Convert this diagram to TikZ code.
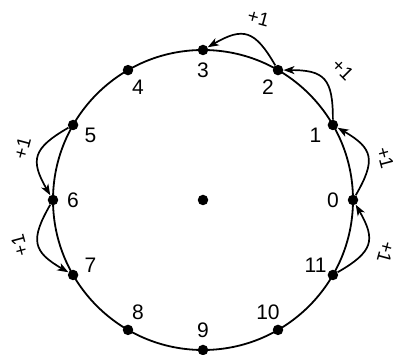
\documentclass[tikz,border=0pt]{standalone}
\usepackage{fontspec}
\setmainfont{Liberation Sans}
\usetikzlibrary{arrows.meta}
\begin{document}
\begin{tikzpicture}[x=1pt,y=1pt,
  dot/.style={circle,fill=black,inner sep=0pt,minimum size=10.5pt},
  num/.style={font=\fontsize{21}{24}\selectfont,inner sep=0pt},
  plus/.style={font=\fontsize{19}{22}\selectfont,inner sep=0pt},
  arr/.style={line width=1.7pt,-{Stealth[length=11pt,width=8pt,inset=3pt]},looseness=1.5},
  ring/.style={line width=1.8pt}]
\useasboundingbox (-203,-155) rectangle (193,200);
\draw[ring] (0,0) circle[radius=150pt];
\node[dot] (c) at (0,0) {};
\foreach \k in {0,...,11} {
  \node[dot] (d\k) at ({30*\k}:150) {};
  \node[num] (l\k) at ({30*\k}:130) {\k};
}
\draw[arr] (d11) to[out=30,in=-60] (d0);
\draw[arr] (d0) to[out=60,in=-30] (d1);
\draw[arr] (d1) to[out=90,in=0] (d2);
\draw[arr] (d2) to[out=120,in=30] (d3);
\draw[arr] (d5) to[out=210,in=120] (d6);
\draw[arr] (d6) to[out=240,in=150] (d7);
\node[plus,rotate=-15] (p23) at (73:190) {+1};
\node[plus,rotate=-45] (p12) at (43:191) {+1};
\node[plus,rotate=-75] (p01) at (13:187) {+1};
\node[plus,rotate=-105] (p110) at (-16:190) {+1};
\node[plus,rotate=75] (p56) at (164:188) {+1};
\node[plus,rotate=105] (p67) at (194:189) {+1};
\end{tikzpicture}
\end{document}
